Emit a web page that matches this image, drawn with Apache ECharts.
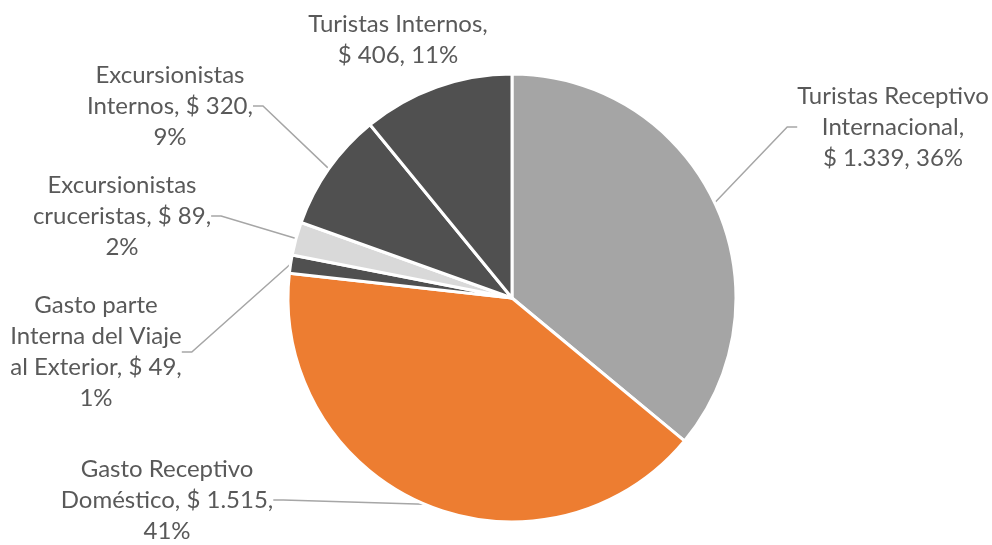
<!DOCTYPE html>
<html>
<head>
<meta charset="utf-8">
<script src="https://cdn.jsdelivr.net/npm/echarts@6/dist/echarts.min.js"></script>
<style>
  html, body { margin: 0; padding: 0; background: #fff; }
  #main { width: 992px; height: 545px; }
</style>
</head>
<body>
<div id="main"></div>
<script>
// datos (clockwise desde arriba)
var names = [
  'Turistas Receptivo\nInternacional',
  'Gasto Receptivo\nDoméstico',
  'Gasto parte\nInterna del Viaje\nal Exterior',
  'Excursionistas\ncruceristas',
  'Excursionistas\nInternos',
  'Turistas Internos'
];
var values = [1339, 1515, 49, 89, 320, 406];
var colors = ['#a5a5a5', '#ed7d31', '#505050', '#d9d9d9', '#505050', '#505050'];
// saltos de linea de cada etiqueta
var breakBeforeValue = [true, false, false, false, false, true];
var breakBeforePct = [false, true, true, true, true, false];
var showLine = [true, true, true, true, true, false];
// posicion de las etiquetas
var labelPos = [[893, 127], [167, 500], [96, 352], [122, 216], [170, 106], [398, 40]];

function fmt(v) {
  return String(v).replace(/\B(?=(\d{3})+(?!\d))/g, '.');
}

var myChart = echarts.init(document.getElementById('main'));

var data = [];
for (var i = 0; i < values.length; i++) {
  data.push({
    name: names[i],
    value: values[i],
    itemStyle: { color: colors[i] },
    labelLine: { show: showLine[i] }
  });
}

var option = {
  animation: false,
  series: [{
    type: 'pie',
    center: [512, 298],
    radius: 224,
    startAngle: 90,
    clockwise: true,
    data: data,
    itemStyle: { borderColor: '#ffffff', borderWidth: 3 },
    label: {
      show: true,
      color: '#595959',
      fontFamily: 'Lato, sans-serif',
      fontSize: 24,
      lineHeight: 31,
      align: 'center',
      formatter: function (p) {
        var i = p.dataIndex;
        return p.name + ',' + (breakBeforeValue[i] ? '\n' : ' ') + '$ ' + fmt(p.value) + ',' +
          (breakBeforePct[i] ? '\n' : ' ') + Math.round(p.percent) + '%';
      }
    },
    labelLine: {
      show: true,
      length: 20,
      length2: 10,
      lineStyle: { color: '#a6a6a6', width: 1.5 }
    },
    labelLayout: function (p) {
      var pos = labelPos[p.dataIndex];
      return { x: pos[0], y: pos[1], align: 'center', verticalAlign: 'middle' };
    }
  }]
};
myChart.setOption(option);
</script>
</body>
</html>
